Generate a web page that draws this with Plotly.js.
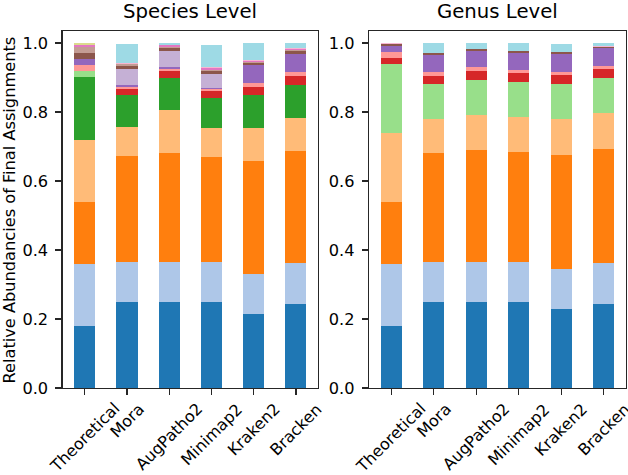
<!DOCTYPE html>
<html>
<head>
<meta charset="utf-8">
<script src="https://cdn.plot.ly/plotly-3.0.1.min.js"></script>
<style>
  html, body { margin: 0; padding: 0; background: white; }
  #chart { width: 628px; height: 475px; }
</style>
</head>
<body>
<div id="chart"></div>
<script>
var methods = ['Theoretical', 'Mora', 'AugPatho2', 'Minimap2', 'Kraken2', 'Bracken'];

// matplotlib tab20
var tab20 = ['#1f77b4', '#aec7e8', '#ff7f0e', '#ffbb78', '#2ca02c', '#98df8a',
             '#d62728', '#ff9896', '#9467bd', '#c5b0d5', '#8c564b', '#c49c94',
             '#e377c2', '#f7b6d2', '#7f7f7f', '#c7c7c7', '#bcbd22', '#dbdb8d',
             '#17becf', '#9edae5'];

// species level, one array per taxon (bottom to top), colour slot in tab20
var speciesSlots = [0, 1, 2, 3, 4, 5, 6, 7, 8, 9, 10, 11, 12, 13, 17, 19];
var speciesLayers = [
    [0.18, 0.25, 0.25, 0.25, 0.214, 0.245],
    [0.18, 0.114, 0.114, 0.114, 0.116, 0.117],
    [0.18, 0.308, 0.318, 0.305, 0.328, 0.326],
    [0.18, 0.085, 0.124, 0.084, 0.095, 0.094],
    [0.18, 0.091, 0.093, 0.088, 0.095, 0.096],
    [0.018, 0, 0, 0, 0, 0],
    [0, 0.02, 0.02, 0.02, 0.025, 0.026],
    [0.019, 0.005, 0.006, 0.005, 0.012, 0.012],
    [0.017, 0.005, 0.005, 0.003, 0.05, 0.051],
    [0, 0.047, 0.048, 0.042, 0, 0],
    [0.018, 0.008, 0.008, 0.008, 0.008, 0.01],
    [0.017, 0.005, 0.002, 0.004, 0.003, 0.003],
    [0.004, 0, 0.005, 0.005, 0.003, 0.003],
    [0.002, 0.004, 0, 0.002, 0.003, 0.003],
    [0.005, 0, 0, 0, 0, 0],
    [0, 0.055, 0.006, 0.063, 0.048, 0.014]
];

// genus level
var genusSlots = [0, 1, 2, 3, 5, 6, 7, 8, 10, 13, 19];
var genusLayers = [
    [0.18, 0.25, 0.25, 0.25, 0.229, 0.245],
    [0.18, 0.114, 0.114, 0.114, 0.116, 0.116],
    [0.18, 0.316, 0.326, 0.321, 0.331, 0.332],
    [0.198, 0.099, 0.101, 0.1, 0.103, 0.103],
    [0.2, 0.101, 0.102, 0.103, 0.102, 0.102],
    [0.017, 0.025, 0.025, 0.024, 0.027, 0.026],
    [0.02, 0.01, 0.011, 0.01, 0.009, 0.009],
    [0.016, 0.049, 0.049, 0.05, 0.05, 0.052],
    [0.005, 0.006, 0.005, 0.006, 0.007, 0.003],
    [0.004, 0, 0, 0, 0, 0.003],
    [0, 0.03, 0.017, 0.021, 0.023, 0.008]
];

var FONT = 'DejaVu Sans, sans-serif';
var LINE = '#262626';

function stackTraces(layers, slots, xa, ya) {
    return layers.map(function (vals, i) {
        return {
            type: 'bar',
            x: methods,
            y: vals,
            xaxis: xa,
            yaxis: ya,
            width: 0.5,
            marker: {color: tab20[slots[i]], line: {width: 0}},
            showlegend: false
        };
    });
}

var data = stackTraces(speciesLayers, speciesSlots, 'x', 'y')
    .concat(stackTraces(genusLayers, genusSlots, 'x2', 'y2'));

function xAxis(domain, anchor) {
    return {
        domain: domain,
        anchor: anchor,
        type: 'category',
        range: [-0.525, 5.525],
        showgrid: false,
        zeroline: false,
        showline: true,
        mirror: true,
        linecolor: LINE,
        linewidth: 1.3,
        ticks: 'outside',
        ticklen: 6,
        tickwidth: 1.3,
        tickcolor: LINE,
        showticklabels: false
    };
}

function yAxis(anchor) {
    return {
        domain: [0.183, 0.935],
        anchor: anchor,
        range: [0, 1.035],
        tickvals: [0, 0.2, 0.4, 0.6, 0.8, 1.0],
        tickformat: '.1f',
        showgrid: false,
        zeroline: false,
        showline: true,
        mirror: true,
        linecolor: LINE,
        linewidth: 1.3,
        ticks: 'outside',
        ticklen: 6,
        tickwidth: 1.3,
        tickcolor: LINE,
        ticklabelstandoff: 4,
        tickfont: {family: FONT, size: 16.2, color: 'black'}
    };
}

// rotated category labels, centred under each tick like matplotlib
var annotations = [];
['x', 'x2'].forEach(function (xa) {
    methods.forEach(function (m) {
        annotations.push({
            x: m, xref: xa, y: 0.165, yref: 'paper',
            text: m, textangle: -45,
            xanchor: 'center', yanchor: 'top', showarrow: false,
            font: {family: FONT, size: 16, color: 'black'}
        });
    });
});

annotations.push({
    x: 0.303, y: 0.975, xref: 'paper', yref: 'paper', text: 'Species Level',
    showarrow: false, xanchor: 'center', yanchor: 'middle',
    font: {family: FONT, size: 19.7, color: 'black'}
});
annotations.push({
    x: 0.792, y: 0.975, xref: 'paper', yref: 'paper', text: 'Genus Level',
    showarrow: false, xanchor: 'center', yanchor: 'middle',
    font: {family: FONT, size: 19.7, color: 'black'}
});
annotations.push({
    x: 0.0143, y: 0.559, xref: 'paper', yref: 'paper',
    text: 'Relative Abundancies of Final Assignments', textangle: -90,
    showarrow: false, xanchor: 'center', yanchor: 'middle',
    font: {family: FONT, size: 16.2, color: 'black'}
});

var layout = {
    width: 628,
    height: 475,
    margin: {l: 0, r: 0, t: 0, b: 0},
    paper_bgcolor: 'white',
    plot_bgcolor: 'white',
    barmode: 'stack',
    xaxis: xAxis([0.0998, 0.5064], 'y'),
    yaxis: yAxis('x'),
    xaxis2: xAxis([0.5876, 0.9968], 'y2'),
    yaxis2: yAxis('x2'),
    annotations: annotations
};

Plotly.newPlot('chart', data, layout, {staticPlot: true});
</script>
</body>
</html>
